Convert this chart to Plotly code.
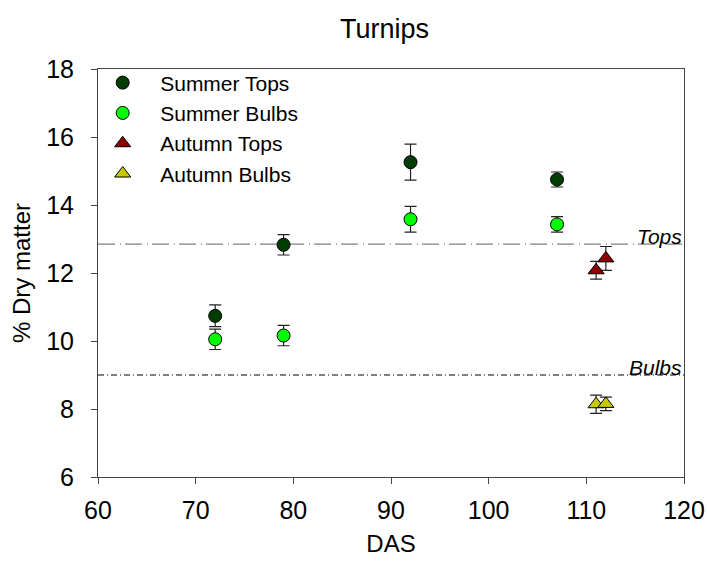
import plotly.graph_objects as go

# ---- data ----
summer_das = [72, 79, 92, 107]
summer_tops = [10.74, 12.83, 15.26, 14.75]
summer_tops_err = [0.32, 0.3, 0.53, 0.22]
summer_bulbs = [10.05, 10.16, 13.58, 13.43]
summer_bulbs_err = [0.3, 0.3, 0.38, 0.23]

autumn_das = [111, 112]
autumn_tops = [12.08, 12.43]
autumn_tops_err = [0.26, 0.35]
autumn_bulbs = [8.14, 8.15]
autumn_bulbs_err = [0.27, 0.2]

ref_x = [60, 120]
tops_ref = 12.85
bulbs_ref = 9.0

FONT = "Arial, Liberation Sans, sans-serif"
PAD = "\u00a0" * 3

fig = go.Figure()

def add(x, y, err, name, symbol, color, size):
    fig.add_trace(go.Scatter(
        x=x, y=y, mode="markers", name=PAD + name,
        marker=dict(symbol=symbol, size=size, color=color,
                    line=dict(color="black", width=1)),
        error_y=dict(type="data", array=err, visible=True,
                     color="#222222", thickness=1.2, width=6),
    ))

# reference lines
fig.add_trace(go.Scatter(x=ref_x, y=[tops_ref, tops_ref], mode="lines",
                         line=dict(color="#808080", width=1.3, dash="17px,5px,1px,4px"),
                         showlegend=False, hoverinfo="skip"))
fig.add_trace(go.Scatter(x=ref_x, y=[bulbs_ref, bulbs_ref], mode="lines",
                         line=dict(color="black", width=1, dash="6px,3px,1px,3px"),
                         showlegend=False, hoverinfo="skip"))

add(summer_das, summer_tops, summer_tops_err, "Summer Tops", "circle", "#003d00", 13)
add(summer_das, summer_bulbs, summer_bulbs_err, "Summer Bulbs", "circle", "#00ff00", 13)
add(autumn_das, autumn_tops, autumn_tops_err, "Autumn Tops", "triangle-up", "#8b0000", 14)
add(autumn_das, autumn_bulbs, autumn_bulbs_err, "Autumn Bulbs", "triangle-up", "#c8c800", 14)

fig.add_annotation(x=120, y=tops_ref, xref="x", yref="y", text="<i>Tops</i>",
                   showarrow=False, xanchor="right", yanchor="bottom",
                   font=dict(family=FONT, size=21, color="black"), yshift=-6)
fig.add_annotation(x=120, y=bulbs_ref, xref="x", yref="y", text="<i>Bulbs</i>",
                   showarrow=False, xanchor="right", yanchor="bottom",
                   font=dict(family=FONT, size=21, color="black"), yshift=-6)

axis_common = dict(showline=True, linecolor="#444444", linewidth=1, mirror=True,
                   ticks="outside", ticklen=6, tickcolor="#444444", showgrid=False,
                   zeroline=False, automargin=False,
                   tickfont=dict(family=FONT, size=25, color="black"))

fig.update_layout(
    width=707, height=564,
    margin=dict(l=98, r=23, t=69, b=87),
    paper_bgcolor="white", plot_bgcolor="white",
    font=dict(family=FONT, size=24, color="black"),
    title=dict(text="Turnips", x=0.544, xanchor="center", y=0.95, yanchor="middle",
               font=dict(family=FONT, size=27, color="black")),
    xaxis=dict(range=[60, 120], dtick=10, tick0=60, ticklabelstandoff=5,
               title=dict(text="DAS", font=dict(family=FONT, size=24), standoff=12),
               **axis_common),
    yaxis=dict(range=[6, 18], dtick=2, tick0=6, ticklabelstandoff=12,
               title=dict(text="% Dry matter", font=dict(family=FONT, size=24), standoff=8),
               **axis_common),
    legend=dict(x=0.008, y=1.016, xanchor="left", yanchor="top",
                bgcolor="rgba(0,0,0,0)", font=dict(family=FONT, size=21),
                tracegroupgap=0, itemsizing="trace"),
    showlegend=True,
)

fig.write_html("out.html")
